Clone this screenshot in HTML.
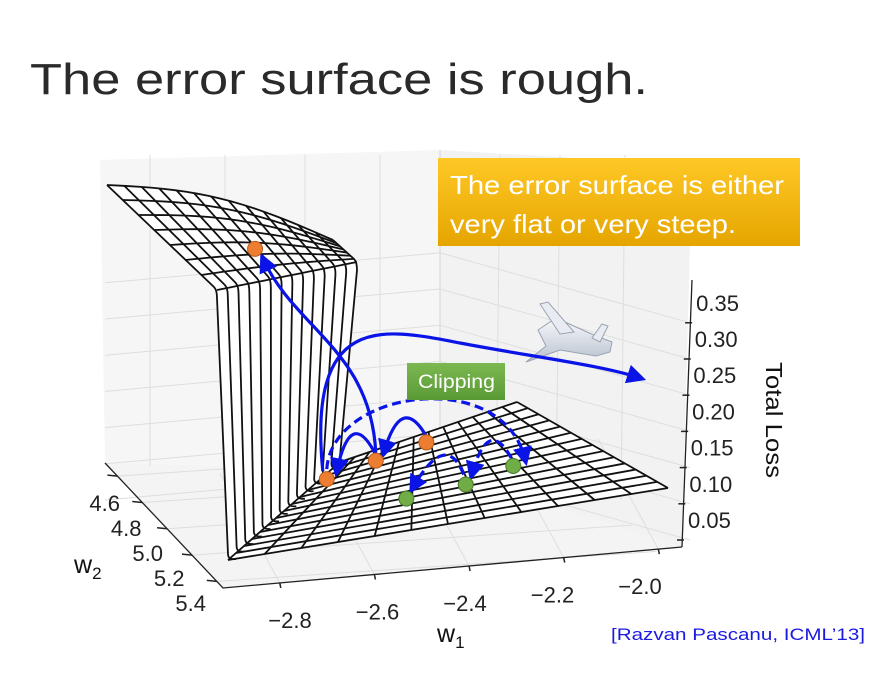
<!DOCTYPE html>
<html><head><meta charset="utf-8"><style>
html,body{margin:0;padding:0;background:#fff;}
body{width:890px;height:672px;overflow:hidden;position:relative;font-family:"Liberation Sans",sans-serif;}
</style></head><body>
<svg id="chart" width="890" height="672" viewBox="0 0 890 672" xmlns="http://www.w3.org/2000/svg">
<defs>
<linearGradient id="yg" x1="0" y1="0" x2="0" y2="1"><stop offset="0" stop-color="#ffc826"/><stop offset="1" stop-color="#e5a500"/></linearGradient>
<linearGradient id="gg" x1="0" y1="0" x2="0" y2="1"><stop offset="0" stop-color="#7cb852"/><stop offset="1" stop-color="#5a9a35"/></linearGradient>
<linearGradient id="pg" x1="0" y1="0" x2="0" y2="1"><stop offset="0" stop-color="#f8f9fb"/><stop offset="1" stop-color="#b9c2d0"/></linearGradient>
<marker id="ah" markerWidth="6" markerHeight="6" refX="4" refY="3" orient="auto" markerUnits="strokeWidth"><path d="M0,0 L6,3 L0,6 z" fill="#0a14e6"/></marker>
</defs>
<text x="30" y="94" font-size="44" fill="#2a2a2a" textLength="618" lengthAdjust="spacingAndGlyphs">The error surface is rough.</text>
<g id="panes"></g>
<g id="axes"></g>
<g id="surf"></g>
<g id="plane">
  <path d="M538,330 L556,318 L596,336 L612,342 L610,352 L596,356 L560,350 L526,362 L546,346 Z" fill="url(#pg)" stroke="#9aa3b2" stroke-width="1"/>
  <path d="M560,334 L540,304 L548,302 L574,332 Z" fill="#e8ecf2" stroke="#9aa3b2" stroke-width="1"/>
  <path d="M592,338 L602,324 L608,326 L600,342 Z" fill="#e8ecf2" stroke="#9aa3b2" stroke-width="1"/>
</g>
<g id="arrows"></g>
<g id="pts"></g>
<g>
<rect x="438" y="158" width="362" height="88" fill="url(#yg)"/>
<text x="450" y="194" font-size="26" fill="#fff" textLength="334" lengthAdjust="spacingAndGlyphs">The error surface is either</text>
<text x="450" y="233" font-size="26" fill="#fff" textLength="286" lengthAdjust="spacingAndGlyphs">very flat or very steep.</text>
</g>
<g>
<rect x="407" y="363" width="98" height="37" fill="url(#gg)"/>
<text x="418" y="388" font-size="19" fill="#fff" textLength="77" lengthAdjust="spacingAndGlyphs">Clipping</text>
</g>
<text transform="translate(766,362) rotate(90)" font-size="23" fill="#111" textLength="116" lengthAdjust="spacingAndGlyphs">Total Loss</text>
<text x="437" y="642" font-size="25" fill="#111">w<tspan font-size="17" dy="6">1</tspan></text>
<text x="74" y="573" font-size="25" fill="#111">w<tspan font-size="17" dy="6">2</tspan></text>
<text x="611" y="640" font-size="17" fill="#1a1ae0" textLength="254" lengthAdjust="spacingAndGlyphs">[Razvan Pascanu, ICML’13]</text>
</svg>
<script>
const w1Ticks = [-2.8, -2.6, -2.4, -2.2, -2.0];
const w1Labels = ['\u22122.8','\u22122.6','\u22122.4','\u22122.2','\u22122.0'];
const w2Ticks = [4.6, 4.8, 5.0, 5.2, 5.4];
const w2Labels = ['4.6','4.8','5.0','5.2','5.4'];
const zTicks = [0.35, 0.30, 0.25, 0.20, 0.15, 0.10, 0.05];
const zLabels = ['0.35','0.30','0.25','0.20','0.15','0.10','0.05'];
const orangeW1 = [-2.72, -2.57, -2.39];
const orangeW2 = [4.76, 4.71, 4.68];
const greenW1 = [-2.45, -2.32, -2.20];
const greenW2 = [5.12, 5.10, 5.03];

const NS='http://www.w3.org/2000/svg';
function mk(tag, attrs, parent){const e=document.createElementNS(NS,tag);for(const k in attrs)e.setAttribute(k,attrs[k]);parent.appendChild(e);return e;}
function lerp(a,b,t){return [a[0]+(b[0]-a[0])*t,a[1]+(b[1]-a[1])*t];}
function xAxis(v){const t=(v+2.92)/0.97;return lerp([223,588],[682,547],t);}
function xLabel(v){const t=(v+2.8)/0.8;return lerp([290,628],[640,594],t);}
function yAxis(v){const t=(v-4.5)/0.95;return lerp([105,463],[223,588],t);}
function yLabel(v){const t=(v-4.6)/0.8;return lerp([120,511],[206,611],t);}
function zAxis(v){return 520-(v-0.05)/0.05*36.2;}
const F00=[228,560],F10=[668,488],F11=[517,402],F01=[340,462];
function floorP(u,v){const a=lerp(F00,F10,u),b=lerp(F01,F11,u);return lerp(a,b,v);}
function floorW(w1,w2){return floorP((w1+2.75)/0.75,(5.4-w2)/0.8);}

const panes=document.getElementById('panes');
mk('polygon',{points:'100,160 440,150 440,470 105,463',fill:'#f6f6f6'},panes);
mk('polygon',{points:'440,150 692,165 682,547 440,470',fill:'#f2f2f2'},panes);
mk('polygon',{points:'105,463 440,470 682,547 223,588',fill:'#f4f4f4'},panes);
const gl={stroke:'#dedede','stroke-width':1,fill:'none'};
[150,225,305,380].forEach(x=>{const l=mk('line',Object.assign({x1:x,y1:155,x2:x,y2:466},gl),panes);});
[500,560,625].forEach(x=>{const l=mk('line',Object.assign({x1:x,y1:155,x2:x-4,y2:500},gl),panes);});
mk('line',{x1:440,y1:150,x2:440,y2:470,stroke:'#d4d4d4','stroke-width':1},panes);
zTicks.forEach(z=>{const y=zAxis(z)+20;
  const l1=mk('line',Object.assign({x1:105,y1:y-40,x2:440,y2:y-70},gl),panes);
  const l2=mk('line',Object.assign({x1:440,y1:y-70,x2:690,y2:y},gl),panes);});
w1Ticks.forEach(v=>{const p=xAxis(v);const l=mk('line',Object.assign({x1:p[0],y1:p[1],x2:p[0]-60,y2:p[1]-110},gl),panes);});
w2Ticks.forEach(v=>{const p=yAxis(v);const l=mk('line',Object.assign({x1:p[0],y1:p[1],x2:p[0]+440,y2:p[1]-30},gl),panes);});

const axes=document.getElementById('axes');
mk('polyline',{points:'105,463 223,588 682,547',fill:'none',stroke:'#222','stroke-width':1.3},axes);
mk('line',{x1:692,y1:280,x2:682,y2:547,stroke:'#222','stroke-width':1.3},axes);
w1Ticks.forEach((v,i)=>{const p=xAxis(v);
  const t=mk('line',{x1:p[0],y1:p[1],x2:p[0]+1,y2:p[1]+5,stroke:'#222','stroke-width':1.5},axes);
  
  const q=xLabel(v);
  const tx=mk('text',{x:q[0],y:q[1],'font-size':22,fill:'#222','text-anchor':'middle'},axes);tx.textContent=w1Labels[i];
  });
w2Ticks.forEach((v,i)=>{const p=yAxis(v);
  const t=mk('line',{x1:p[0],y1:p[1],x2:p[0]-10,y2:p[1]-1,stroke:'#222','stroke-width':1.5},axes);
  
  const q=yLabel(v);
  const tx=mk('text',{x:q[0],y:q[1],'font-size':22,fill:'#222','text-anchor':'end'},axes);tx.textContent=w2Labels[i];
  });
zTicks.forEach((v,i)=>{const y=zAxis(v);const x=692-(y-280)/267*10;
  const t=mk('line',{x1:x-6,y1:y+20,x2:x+1,y2:y+20,stroke:'#222','stroke-width':1.5},axes);
  
  const tx=mk('text',{x:x+5,y:y+8,'font-size':22,fill:'#222'},axes);tx.textContent=zLabels[i];
  });

const surf=document.getElementById('surf');
const NU=12,NV=14,NW=13,NP=7;
function plat(s,t){const a=lerp([217,290],[357,262],t);let b=lerp([107,185],[333,240],t);b[1]-=14*Math.sin(Math.PI*t);return lerp(a,b,s);}
let pp=[];for(let i=0;i<=20;i++)pp.push(plat(1,i/20));for(let i=20;i>=0;i--)pp.push(plat(0,i/20));
mk('polygon',{points:pp.map(p=>p.join(',')).join(' '),fill:'#fff'},surf);
mk('polygon',{points:[plat(0,0),plat(0,1),F01,F00].map(p=>p.join(',')).join(' '),fill:'#fff'},surf);
mk('polygon',{points:[F00,F10,F11,F01].map(p=>p.join(',')).join(' '),fill:'#fff'},surf);
const ls={fill:'none',stroke:'#111','stroke-width':1.8};
for(let j=0;j<=NP;j++){let pts=[];for(let i=0;i<=20;i++)pts.push(plat(j/NP,i/20));
  const e=mk('polyline',Object.assign({points:pts.map(p=>p.join(',')).join(' ')},ls),surf);}
for(let k=0;k<=NW;k++){const t=k/NW;const top=plat(0,t),back=plat(1,t),bot=lerp(F00,F01,t);
  const d=`M${back[0]},${back[1]} L${top[0]-3},${top[1]-3} Q${top[0]},${top[1]} ${top[0]},${top[1]+8} L${bot[0]},${bot[1]-6} Q${bot[0]},${bot[1]} ${bot[0]+8},${bot[1]-1}`;
  const e=mk('path',Object.assign({d:d},ls),surf);}
for(let i=0;i<=NU;i++){const a=floorP(i/NU,0),b=floorP(i/NU,1);
  const e=mk('line',Object.assign({x1:a[0],y1:a[1],x2:b[0],y2:b[1]},ls),surf);}
for(let j=0;j<=NV;j++){const a=floorP(0,j/NV),b=floorP(1,j/NV);
  const e=mk('line',Object.assign({x1:a[0],y1:a[1],x2:b[0],y2:b[1]},ls),surf);}

const ptsG=document.getElementById('pts');
const oP=orangeW1.map((w,i)=>floorW(w,orangeW2[i]));
const gP=greenW1.map((w,i)=>floorW(w,greenW2[i]));
const topP=plat(0.35,0.45);
const ar=document.getElementById('arrows');
const sol={fill:'none',stroke:'#0a14e6','stroke-width':3.2,'marker-end':'url(#ah)'};
const das=Object.assign({},sol,{'stroke-dasharray':'9,5'});
function arrow(d,st,name){const e=mk('path',Object.assign({d:d},st),ar);}
arrow(`M${oP[1][0]},${oP[1][1]-8} C${oP[1][0]-5},${oP[1][1]-110} ${topP[0]+40},${topP[1]+80} ${topP[0]+8},${topP[1]+10}`,sol,'steep-arrow');
arrow(`M${oP[0][0]-4},${oP[0][1]-8} C${oP[0][0]-20},${oP[0][1]-170} ${oP[0][0]+60},${oP[0][1]-150} 460,343 S600,365 640,378`,sol,'explode-arrow');
arrow(`M${oP[1][0]},${oP[1][1]-6} Q${oP[1][0]-25},${oP[1][1]-55} ${oP[0][0]+10},${oP[0][1]-8}`,sol,'step-arrow');
arrow(`M${oP[2][0]},${oP[2][1]-6} Q${oP[2][0]-25},${oP[2][1]-50} ${oP[1][0]+8},${oP[1][1]-8}`,sol,'step-arrow');
arrow(`M${oP[0][0]},${oP[0][1]-10} C${oP[0][0]+5},${oP[0][1]-90} ${gP[2][0]-10},${gP[2][1]-100} ${gP[2][0]+12},${gP[2][1]-6}`,das,'clipped-arrow');
arrow(`M${gP[1][0]-2},${gP[1][1]-10} Q${gP[1][0]-20},${gP[1][1]-55} ${gP[0][0]+6},${gP[0][1]-10}`,das,'clipped-step-arrow');
arrow(`M${gP[2][0]-2},${gP[2][1]-8} Q${gP[2][0]-25},${gP[2][1]-50} ${gP[1][0]+6},${gP[1][1]-10}`,das,'clipped-step-arrow');
oP.concat([topP]).forEach(p=>{const c=mk('circle',{cx:p[0],cy:p[1],r:7.5,fill:'#ed7d31',stroke:'#b85a1c','stroke-width':1},ptsG);
  });
gP.forEach(p=>{const c=mk('circle',{cx:p[0],cy:p[1],r:7.5,fill:'#70ad47',stroke:'#4a7a2c','stroke-width':1},ptsG);
  });
</script>
</body></html>
